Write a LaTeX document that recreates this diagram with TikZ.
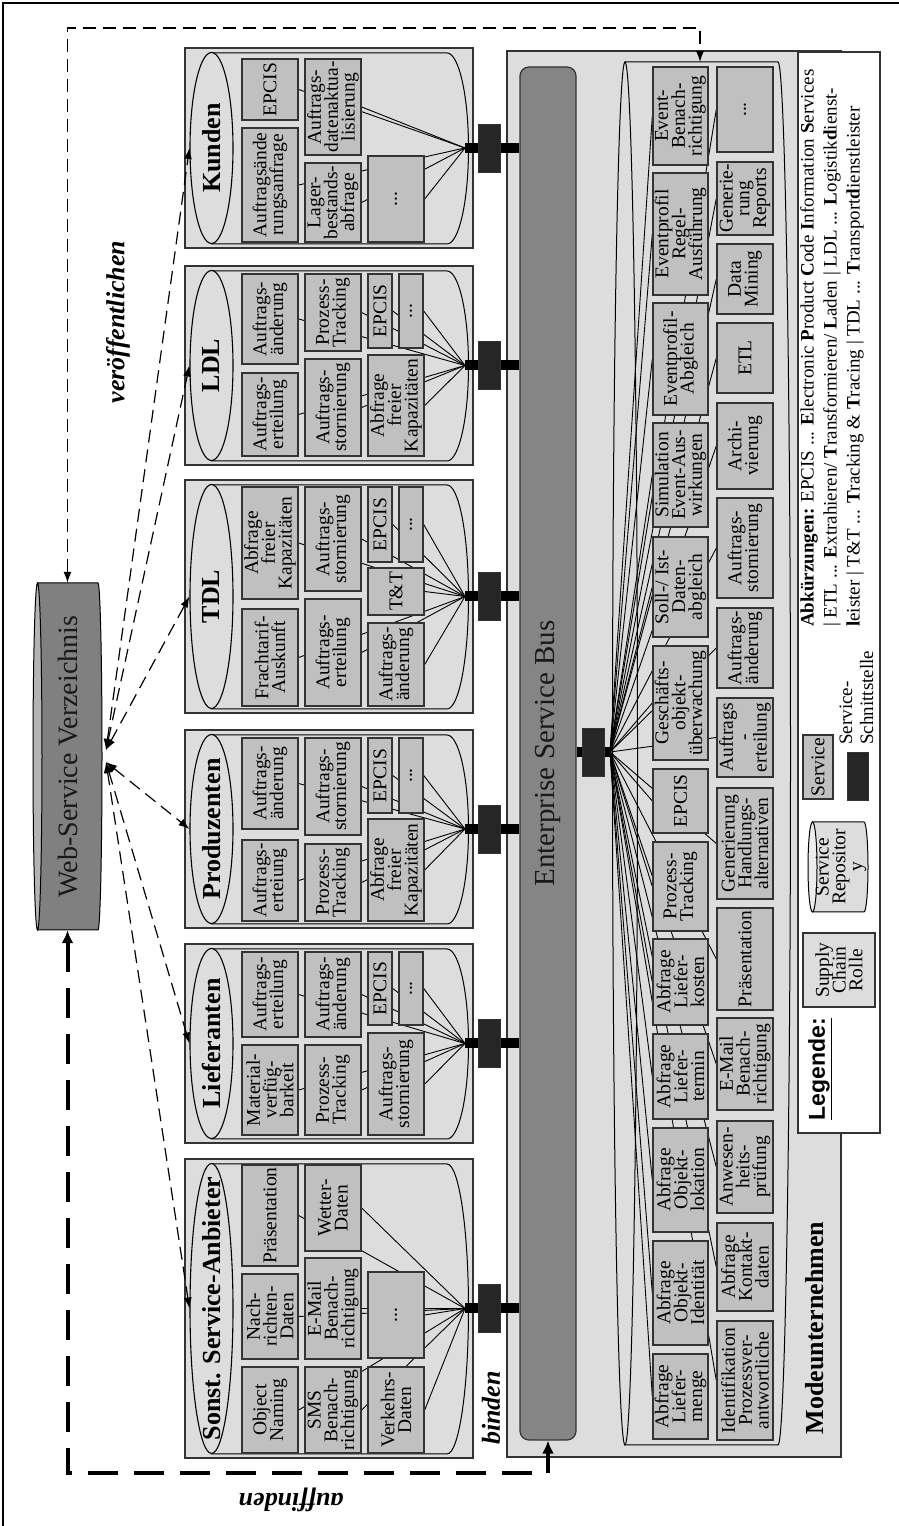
\documentclass[tikz,border=0pt]{standalone}
\usepackage{fontspec}
\setmainfont{Liberation Serif}
\setsansfont{Liberation Sans}
\usepackage{tikz}
\usetikzlibrary{positioning,arrows.meta,shapes.geometric}
\definecolor{rolefill}{HTML}{DDDDDD}
\definecolor{svcfill}{HTML}{C0C0C0}
\definecolor{busfill}{HTML}{858585}
\definecolor{wsfill}{HTML}{808080}
\definecolor{wscap}{HTML}{B4B4B4}
\definecolor{portfill}{HTML}{262626}
\definecolor{edgegray}{HTML}{333333}
\pgfdeclarelayer{backdrop}
\pgfdeclarelayer{wires}
\pgfsetlayers{backdrop,wires,main}
\newcommand\svcfont{\fontsize{19.5}{16.8}\selectfont\lineskiplimit=-20pt\relax}
\newcommand\rolefont{\fontsize{26}{30}\selectfont\bfseries}
\newcommand\tagfont{\fontsize{26}{30}\selectfont\bfseries\itshape}

\begin{document}
\begin{tikzpicture}[
  x=1pt, y=1pt, rotate=90, transform shape,
  svc/.style={
    draw=edgegray, fill=svcfill, line width=1.4pt,
    minimum height=56pt, inner sep=0pt, align=center, font=\svcfont,
  },
  svchalf/.style={svc, minimum height=24pt},
  modsvc/.style={svc, minimum height=55pt},
  roleframe/.style={draw=edgegray, fill=rolefill, line width=1.3pt},
  rolebody/.style={draw=black, fill=rolefill, line width=1pt},
  rolecap/.style={ellipse, draw=black, fill=rolefill, line width=1.1pt, minimum height=43pt, inner sep=0pt},
  rolename/.style={font=\rolefont, inner sep=0pt},
  port/.style={draw=edgegray, fill=portfill, line width=0.8pt, minimum width=48pt, minimum height=22pt, inner sep=0pt},
  portbar/.style={line width=10pt},
  fan/.style={line width=0.9pt},
  bus/.style={
    draw=edgegray, fill=busfill, line width=1.2pt, rounded corners=9pt,
    font=\fontsize{29}{34}\selectfont, text=black!90,
  },
  pub/.style={{Latex[length=11pt,width=8pt]}-{Latex[length=11pt,width=8pt]}, line width=1.2pt, dash pattern=on 13pt off 7pt},
  findline/.style={{Latex[length=13pt,width=12pt]}-{Latex[length=13pt,width=12pt]}, line width=4pt, dash pattern=on 30pt off 16pt},
  tag/.style={font=\tagfont, inner sep=0pt},
  legtext/.style={font=\fontsize{19}{21}\selectfont, inner sep=0pt},
]
\useasboundingbox (0,-899) rectangle (1526,0);

% page frame (left and top edge only)
\draw[line width=1.2pt] (0,-3) -- (1523,-3) -- (1523,-899);

% Enterprise Service Bus
\node[bus, minimum width=1373pt, minimum height=56pt] (esb) at (772.5,-548) {Enterprise Service Bus};

% Web-Service Verzeichnis (cylinder drawn by hand, node carries the text)
\begin{pgfonlayer}{backdrop}
  \filldraw[fill=wsfill, line width=1pt] (596,-37.5) -- (596,-98)
    arc[start angle=180, end angle=360, x radius=173.5, y radius=4] -- (943,-37.5) -- cycle;
  \filldraw[fill=wscap, line width=1pt] (769.5,-37.5) ellipse [x radius=173.5, y radius=4.5];
\end{pgfonlayer}
\node[minimum width=347pt, minimum height=69pt, inner sep=0pt, font=\fontsize{28}{34}\selectfont, text=black!90]
  (wsv) at (769.5,-67.5) {Web-Service Verzeichnis};

% Supply chain roles: frame, cylinder, name, port to the bus
\foreach \rl/\rr/\rn/\rt in {
    68/367/sonst/{Sonst. Service-Anbieter},
    383/582/lief/Lieferanten,
    598/796/prod/Produzenten,
    813/1046/tdl/TDL,
    1061/1260/ldl/LDL,
    1278/1478/kund/Kunden}{
  \pgfmathsetmacro\rc{(\rl+\rr)/2}
  \pgfmathsetmacro\rw{\rr-\rl-9}
  \pgfmathsetmacro\rrad{(\rr-\rl-9)/2}
  \begin{pgfonlayer}{backdrop}
    \filldraw[roleframe] (\rl,-185) rectangle (\rr,-473);
    \filldraw[rolebody] (\rl+4,-211.5) -- (\rl+4,-447)
      arc[start angle=180, end angle=360, x radius=\rrad, y radius=21.5] -- (\rr-5,-211.5) -- cycle;
  \end{pgfonlayer}
  \node[rolecap, minimum width=\rw pt] (\rn Cap) at (\rc,-211.5) {};
  \node[rolename] at (\rn Cap) {\rt};
  \coordinate (\rn Hub) at (\rc,-465);
  \draw[portbar] (\rn Hub) -- (\rn Hub |- esb.north);
  \node[port] (\rn Port) at (\rc,-489) {};
}

% Kunden
\node[svc, minimum width=114pt] (kAnfrage) at (1341,-270) {Auftragsände\\rungsanfrage};
\node[svc, minimum width=61pt] (kEpcis) at (1436.5,-270) {EPCIS};
\node[svc, minimum width=79pt] (kLager) at (1323.5,-333) {Lager-\\bestands-\\abfrage};
\node[svc, minimum width=96pt] (kDaten) at (1419,-333) {Auftrags-\\datenaktua-\\lisierung};
\node[svc, minimum width=86pt] (kMore) at (1327,-396) {...};

% LDL
\node[svc, minimum width=90pt] (lAend) at (1207,-270) {Auftrags-\\änderung};
\node[svc, minimum width=83pt] (lErt) at (1111.5,-270) {Auftrags-\\erteilung};
\node[svc, minimum width=77pt] (lTrack) at (1213.5,-333) {Prozess-\\Tracking};
\node[svc, minimum width=97pt] (lStorno) at (1118.5,-333) {Auftrags-\\stornierung};
\node[svchalf, minimum width=74pt] (lEpcis) at (1215,-380) {EPCIS};
\node[svchalf, minimum width=74pt] (lMore) at (1215,-411) {...};
\node[svc, minimum width=101pt] (lKapa) at (1120.5,-396) {Abfrage\\freier\\Kapazitäten};

% TDL
\node[svc, minimum width=112pt] (tKapa) at (983,-270) {Abfrage\\freier\\Kapazitäten};
\node[svc, minimum width=97pt] (tFracht) at (868.5,-270) {Frachtarif-\\Auskunft};
\node[svc, minimum width=104pt] (tStorno) at (987,-333) {Auftrags-\\stornierung};
\node[svc, minimum width=107pt] (tErt) at (873.5,-333) {Auftrags-\\erteilung};
\node[svchalf, minimum width=75pt] (tEpcis) at (1001.5,-380) {EPCIS};
\node[svchalf, minimum width=75pt] (tMore) at (1001.5,-411) {...};
\node[svc, minimum width=47pt] (tTT) at (934.5,-396) {T\&T};
\node[svc, minimum width=83pt] (tAend) at (861.5,-396) {Auftrags-\\änderung};

% Produzenten
\node[svc, minimum width=91pt] (pAend) at (742.5,-270) {Auftrags-\\änderung};
\node[svc, minimum width=81pt] (pErt) at (645.5,-270) {Auftrags-\\erteiung};
\node[svc, minimum width=97pt] (pStorno) at (739.5,-333) {Auftrags-\\stornierung};
\node[svc, minimum width=77pt] (pTrack) at (643.5,-333) {Prozess-\\Tracking};
\node[svchalf, minimum width=75pt] (pEpcis) at (750.5,-380) {EPCIS};
\node[svchalf, minimum width=75pt] (pMore) at (750.5,-411) {...};
\node[svc, minimum width=102pt] (pKapa) at (656,-396) {Abfrage\\freier\\Kapazitäten};

% Lieferanten
\node[svc, minimum width=85pt] (liErt) at (531.5,-270) {Auftrags-\\erteilung};
\node[svc, minimum width=90pt] (liMat) at (436,-270) {Material-\\verfüg-\\barkeit};
\node[svc, minimum width=85pt] (liAend) at (531.5,-333) {Auftrags-\\änderung};
\node[svc, minimum width=90pt] (liTrack) at (436,-333) {Prozess-\\Tracking};
\node[svchalf, minimum width=73pt] (liEpcis) at (537.5,-380) {EPCIS};
\node[svchalf, minimum width=73pt] (liMore) at (537.5,-411) {...};
\node[svc, minimum width=102pt] (liStorno) at (442,-396) {Auftrags-\\stornierung};

% Sonst. Service-Anbieter
\node[svc, minimum width=101pt] (sPraes) at (310.5,-270) {Präsentation};
\node[svc, minimum width=85pt] (sNews) at (209.5,-270) {Nach-\\richten-\\Daten};
\node[svc, minimum width=86pt] (sOns) at (116,-270) {Object\\Naming};
\node[svc, minimum width=86pt] (sWetter) at (318,-333) {Wetter-\\Daten};
\node[svc, minimum width=101pt] (sMail) at (217.5,-333) {E-Mail\\Benach-\\richtigung};
\node[svc, minimum width=86pt] (sSms) at (116,-333) {SMS\\Benach-\\richtigung};
\node[svc, minimum width=86pt] (sMore) at (211,-396) {...};
\node[svc, minimum width=86pt] (sVerkehr) at (116,-396) {Verkehrs-\\Daten};

% Modeunternehmen: frame and repository cylinder
\begin{pgfonlayer}{backdrop}
  \filldraw[roleframe] (69,-507) rectangle (1475,-841);
  \filldraw[rolebody] (81,-625) -- (81,-778)
    arc[start angle=180, end angle=360, x radius=691.5, y radius=12.5] -- (1464,-625) -- cycle;
  \draw[rolebody] (772.5,-625) ellipse [x radius=691.5, y radius=12.5];
\end{pgfonlayer}
\coordinate (mCylEnd) at (1464,-700);
\coordinate (mHub) at (774,-610);
\draw[portbar] (mHub) -- (mHub |- esb.south);
\node[port] (mPort) at (774,-593) {};

% Modeunternehmen services, first row
\node[modsvc, minimum width=98pt] (mEvent) at (1410,-680.5) {Event-\\Benach-\\richtigung};
\node[modsvc, minimum width=122pt] (mRegel) at (1292,-680.5) {Eventprofil\\Regel-\\Ausführung};
\node[modsvc, minimum width=112pt] (mAbgl) at (1167,-680.5) {Eventprofil-\\Abgleich};
\node[modsvc, minimum width=104pt] (mSim) at (1051,-680.5) {Simulation\\Event-Aus-\\wirkungen};
\node[modsvc, minimum width=100pt] (mSoll) at (939,-680.5) {Soll-/ Ist-\\Daten-\\abgleich};
\node[modsvc, minimum width=114pt] (mObj) at (823,-680.5) {Geschäfts-\\objekt-\\überwachung};
\node[modsvc, minimum width=64pt] (mEpcis) at (725,-680.5) {EPCIS};
\node[modsvc, minimum width=89pt] (mTrack) at (639.5,-680.5) {Prozess-\\Tracking};
\node[modsvc, minimum width=86pt] (mKosten) at (544,-680.5) {Abfrage\\Liefer-\\kosten};
\node[modsvc, minimum width=85pt] (mTermin) at (449.5,-680.5) {Abfrage\\Liefer-\\termin};
\node[modsvc, minimum width=104pt] (mLok) at (346,-680.5) {Abfrage\\Objekt-\\lokation};
\node[modsvc, minimum width=104pt] (mIdent) at (233,-680.5) {Abfrage\\Objekt-\\Identität};
\node[modsvc, minimum width=85pt] (mMenge) at (129.5,-680.5) {Abfrage\\Liefer-\\menge};

% Modeunternehmen services, second row
\node[svc, minimum width=85pt] (mMore) at (1416.5,-745) {...};
\node[svc, minimum width=73pt] (mReport) at (1327.5,-745) {Generie-\\rung\\Reports};
\node[svc, minimum width=70pt] (mMining) at (1247,-745) {Data\\Mining};
\node[svc, minimum width=70pt] (mEtl) at (1168,-745) {ETL};
\node[svc, minimum width=86pt] (mArchiv) at (1080,-745) {Archi-\\vierung};
\node[svc, minimum width=100pt] (mStorno) at (978,-745) {Auftrags-\\stornierung};
\node[svc, minimum width=80pt] (mAend) at (878,-745) {Auftrags-\\änderung};
\node[svc, minimum width=79pt] (mErt) at (788.5,-745) {Auftrags\\-\\erteilung};
\node[svc, minimum width=111pt] (mAlt) at (682.5,-745) {Generierung\\Handlungs-\\alternativen};
\node[svc, minimum width=102pt] (mPraes) at (567,-745) {Präsentation};
\node[svc, minimum width=92pt] (mMail) at (462,-745) {E-Mail\\Benach-\\richtigung};
\node[svc, minimum width=92pt] (mAnw) at (359,-745) {Anwesen-\\heits-\\prüfung};
\node[svc, minimum width=88pt] (mKontakt) at (259,-745) {Abfrage\\Kontakt-\\daten};
\node[svc, minimum width=119pt] (mVerantw) at (145.5,-745) {Identifikation\\Prozessver-\\antwortliche};

\node[rolename] (modeName) at (198,-815) {Modeunternehmen};

% fan-out wires behind the service boxes
\begin{pgfonlayer}{wires}
  \foreach \b in {kAnfrage,kEpcis,kLager,kDaten,kMore}
    \draw[fan] (\b.south) -- (kundHub);
  \foreach \b in {lAend,lErt,lTrack,lStorno,lEpcis,lMore,lKapa}
    \draw[fan] (\b.south) -- (ldlHub);
  \foreach \b in {tKapa,tFracht,tStorno,tErt,tEpcis,tMore,tTT,tAend}
    \draw[fan] (\b.south) -- (tdlHub);
  \foreach \b in {pAend,pErt,pStorno,pTrack,pEpcis,pMore,pKapa}
    \draw[fan] (\b.south) -- (prodHub);
  \foreach \b in {liErt,liMat,liAend,liTrack,liEpcis,liMore,liStorno}
    \draw[fan] (\b.south) -- (liefHub);
  \foreach \b in {sPraes,sNews,sOns,sWetter,sMail,sSms,sMore,sVerkehr}
    \draw[fan] (\b.south) -- (sonstHub);
  \foreach \b in {mEvent,mRegel,mAbgl,mSim,mSoll,mObj,mEpcis,mTrack,mKosten,mTermin,mLok,mIdent,mMenge,
                  mMore,mReport,mMining,mEtl,mArchiv,mStorno,mAend,mErt,mAlt,mPraes,mMail,mAnw,mKontakt,mVerantw}
    \draw[fan] (mHub) -- (\b.north);
\end{pgfonlayer}

% Legend
\filldraw[fill=white, draw=edgegray, line width=1.2pt] (393,-798) rectangle (1474,-880);
\node[font=\sffamily\bfseries\fontsize{23}{26}\selectfont, inner sep=0pt] (legTitle) at (457,-820) {\underline{Legende:}};
\node[draw=edgegray, fill=rolefill, line width=1.3pt, minimum width=74pt, minimum height=72pt,
  inner sep=0pt, align=center, font=\svcfont] (legRole) at (556,-839) {Supply\\Chain\\Rolle};
\filldraw[fill=rolefill, line width=1pt] (614,-812.5) -- (614,-864)
  arc[start angle=180, end angle=360, x radius=45, y radius=4] -- (704,-812.5) -- cycle;
\filldraw[fill=white!93!black, line width=1pt] (659,-812.5) ellipse [x radius=45, y radius=4.5];
\node[align=center, font=\svcfont, inner sep=0pt] (legRepo) at (659,-841) {Service\\Repositor\\y};
\node[svc, minimum width=64pt, minimum height=30pt] (legSvc) at (759,-818) {Service};
\node[port, minimum height=21pt] (legPort) at (750,-857.5) {};
\node[legtext, anchor=west, align=left] (legPortText) at (781,-856.5) {Service-\\Schnittstelle};
\node[legtext, anchor=north west, align=left, font=\fontsize{19}{23}\selectfont] (abbrev) at (899,-800)
  {\textbf{Abkürzungen:} EPCIS ... \textbf{E}lectronic \textbf{P}roduct \textbf{C}ode \textbf{I}nformation \textbf{S}ervices\\
   | ETL ... \textbf{E}xtrahieren/ \textbf{T}ransformieren/ \textbf{L}aden | LDL ... \textbf{L}ogistik\textbf{d}ienst-\\
   \textbf{l}eister | T\&T ... \textbf{T}racking \& \textbf{T}racing | TDL ... \textbf{T}ransport\textbf{d}ienstleister};

% publish, bind and find
\coordinate (wsUp) at (776,-106);
\coordinate (wsDown) at (764,-106);
\foreach \rn in {kund,ldl,tdl}
  \draw[pub] (wsUp) -- (\rn Cap.north);
\foreach \rn in {prod,lief,sonst}
  \draw[pub] (wsDown) -- (\rn Cap.north);
\coordinate (pubCorner) at (1498,-67.5);
\draw[pub] (wsv.east) -- (pubCorner) |- (mCylEnd);
\coordinate (findCorner) at (53,-67.5);
\draw[findline] (wsv.west) -- (findCorner) |- (esb.west);

\node[tag] (pubTag) at (1204,-118) {veröffentlichen};
\node[tag] (bindTag) at (118,-491) {binden};
\node[tag, rotate=90] (findTag) at (26,-291) {auffinden};

\end{tikzpicture}
\end{document}
